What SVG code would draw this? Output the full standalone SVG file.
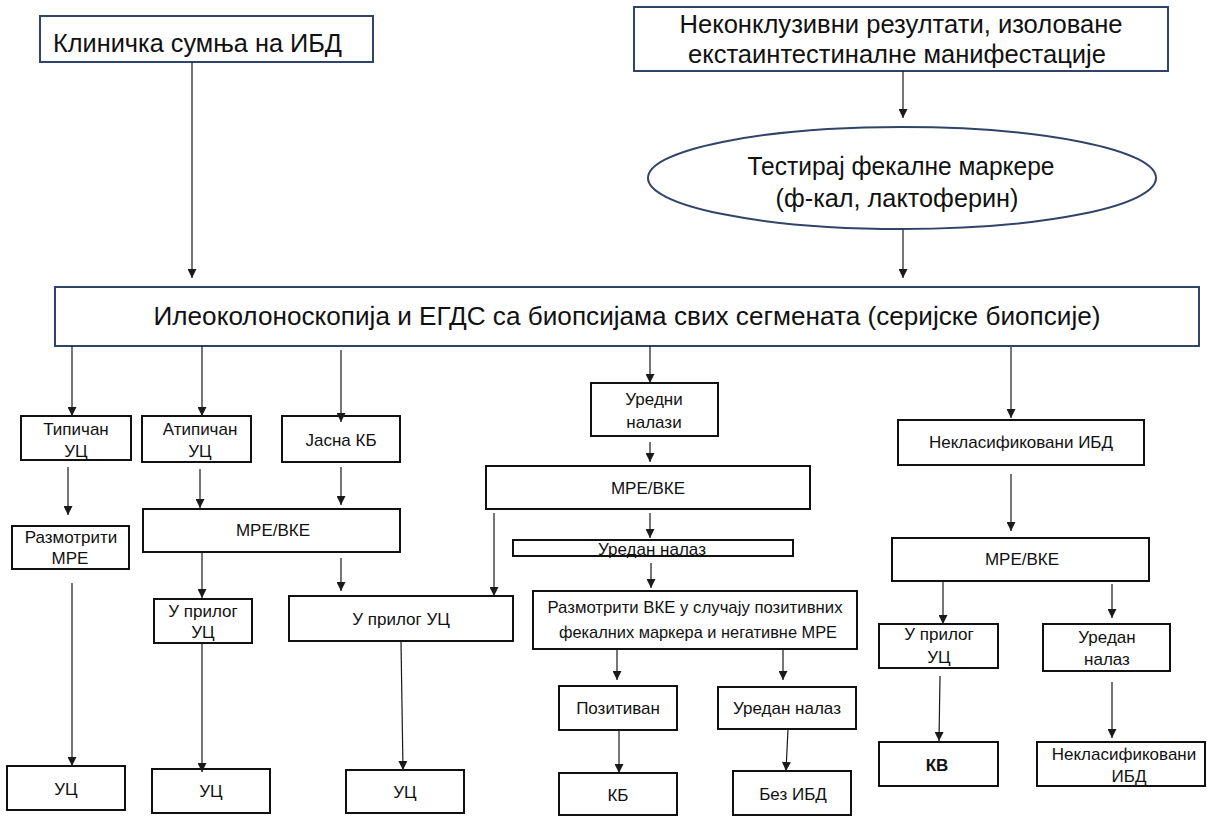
<svg xmlns="http://www.w3.org/2000/svg" width="1207" height="817" viewBox="0 0 1207 817">
<defs>
<marker id="ah" viewBox="0 0 10 10" markerUnits="userSpaceOnUse" markerWidth="9" markerHeight="9" refX="10" refY="5" orient="auto">
<path d="M0,0 L10,5 L0,10 z" fill="#1a1a1a"/>
</marker>
<style>
.top{fill:#fff;stroke:#2f4468;stroke-width:2}
.box{fill:#fff;stroke:#111;stroke-width:2}
.t{font-family:"Liberation Sans",Arial,sans-serif;fill:#111;text-anchor:middle}
.big{font-size:25px}
.sm{font-size:17px}
.c line{stroke:#1a1a1a;stroke-width:1.2;marker-end:url(#ah)}
</style>
</defs>
<rect width="1207" height="817" fill="#fff"/>

<g id="n-klinicka">
<rect class="top" x="40" y="16" width="333" height="46"/>
<text class="t big" x="53" y="52" style="text-anchor:start" textLength="289" lengthAdjust="spacingAndGlyphs">Клиничка сумња на ИБД</text>
</g>
<g id="n-nekonkluzivni">
<rect class="top" x="634" y="7" width="534" height="64"/>
<text class="t big" x="901" y="33" textLength="443" lengthAdjust="spacingAndGlyphs">Неконклузивни резултати, изоловане</text>
<text class="t big" x="897" y="63" textLength="418" lengthAdjust="spacingAndGlyphs">екстаинтестиналне манифестације</text>
</g>
<g id="n-fekalni">
<ellipse class="top" cx="902" cy="178" rx="254" ry="51"/>
<text class="t big" x="901" y="175" textLength="307" lengthAdjust="spacingAndGlyphs">Тестирај фекалне маркере</text>
<text class="t big" x="897" y="207" textLength="243" lengthAdjust="spacingAndGlyphs">(ф-кал, лактоферин)</text>
</g>
<g id="n-ileo">
<rect class="top" x="55" y="287" width="1144" height="59"/>
<text class="t big" x="627" y="325" textLength="947" lengthAdjust="spacingAndGlyphs">Илеоколоноскопија и ЕГДС са биопсијама свих сегмената (серијске биопсије)</text>
</g>

<g id="n-tipican">
<rect class="box" x="21" y="416" width="110" height="44"/>
<text class="t sm" x="76" y="435">Типичан</text>
<text class="t sm" x="76" y="457">УЦ</text>
</g>
<g id="n-atipican">
<rect class="box" x="142" y="416" width="109" height="46"/>
<text class="t sm" x="200" y="435">Атипичан</text>
<text class="t sm" x="200" y="457">УЦ</text>
</g>
<g id="n-jasna">
<rect class="box" x="282" y="416" width="118" height="46"/>
<text class="t sm" x="341" y="446">Јасна КБ</text>
</g>
<g id="n-razmotriti-mre">
<rect class="box" x="12" y="526" width="117" height="43"/>
<text class="t sm" x="71" y="543">Размотрити</text>
<text class="t sm" x="70" y="564">МРЕ</text>
</g>
<g id="n-mre1">
<rect class="box" x="143" y="509" width="257" height="43"/>
<text class="t sm" x="273" y="536">МРЕ/ВКЕ</text>
</g>
<g id="n-uc-prilog1">
<rect class="box" x="154" y="599" width="98" height="44"/>
<text class="t sm" x="203" y="617">У прилог</text>
<text class="t sm" x="203" y="638">УЦ</text>
</g>
<g id="n-uc-prilog2">
<rect class="box" x="289" y="596" width="224" height="45"/>
<text class="t sm" x="401" y="625">У прилог УЦ</text>
</g>
<g id="n-uc1">
<rect class="box" x="7" y="766" width="118" height="44"/>
<text class="t sm" x="66" y="795">УЦ</text>
</g>
<g id="n-uc2">
<rect class="box" x="152" y="769" width="118" height="44"/>
<text class="t sm" x="211" y="797">УЦ</text>
</g>
<g id="n-uc3">
<rect class="box" x="346" y="770" width="118" height="43"/>
<text class="t sm" x="405" y="798">УЦ</text>
</g>

<g id="n-uredni">
<rect class="box" x="591" y="383" width="127" height="53"/>
<text class="t sm" x="654" y="405">Уредни</text>
<text class="t sm" x="654" y="428">налази</text>
</g>
<g id="n-mre2">
<rect class="box" x="486" y="466" width="324" height="43"/>
<text class="t sm" x="648" y="494">МРЕ/ВКЕ</text>
</g>
<g id="n-uredan1">
<rect class="box" x="513" y="540" width="280" height="16"/>
<text class="t sm" x="652" y="555">Уредан налаз</text>
</g>
<g id="n-razmotriti-vke">
<rect class="box" x="533" y="591" width="324" height="58"/>
<text class="t sm" x="695" y="613" textLength="295" lengthAdjust="spacingAndGlyphs">Размотрити ВКЕ у случају позитивних</text>
<text class="t sm" x="698" y="638" textLength="278" lengthAdjust="spacingAndGlyphs">фекалних маркера и негативне МРЕ</text>
</g>
<g id="n-pozitivan">
<rect class="box" x="559" y="686" width="118" height="44"/>
<text class="t sm" x="618" y="714">Позитиван</text>
</g>
<g id="n-uredan2">
<rect class="box" x="718" y="687" width="138" height="42"/>
<text class="t sm" x="787" y="714">Уредан налаз</text>
</g>
<g id="n-kb">
<rect class="box" x="559" y="773" width="118" height="42"/>
<text class="t sm" x="618" y="801">КБ</text>
</g>
<g id="n-bez-ibd">
<rect class="box" x="733" y="771" width="118" height="44"/>
<text class="t sm" x="793" y="800">Без ИБД</text>
</g>

<g id="n-neklas1">
<rect class="box" x="898" y="420" width="246" height="45"/>
<text class="t sm" x="1021" y="448">Некласификовани ИБД</text>
</g>
<g id="n-mre3">
<rect class="box" x="892" y="538" width="257" height="43"/>
<text class="t sm" x="1022" y="565">МРЕ/ВКЕ</text>
</g>
<g id="n-uc-prilog3">
<rect class="box" x="879" y="624" width="119" height="44"/>
<text class="t sm" x="939" y="640">У прилог</text>
<text class="t sm" x="939" y="663">УЦ</text>
</g>
<g id="n-uredan3">
<rect class="box" x="1043" y="624" width="127" height="47"/>
<text class="t sm" x="1107" y="643">Уредан</text>
<text class="t sm" x="1107" y="665">налаз</text>
</g>
<g id="n-kv">
<rect class="box" x="879" y="742" width="119" height="44"/>
<text class="t sm" x="937" y="771" style="font-weight:bold">КВ</text>
</g>
<g id="n-neklas2">
<rect class="box" x="1037" y="742" width="168" height="44"/>
<text class="t sm" x="1124" y="760">Некласификовани</text>
<text class="t sm" x="1129" y="782">ИБД</text>
</g>

<g id="connectors" class="c">
<line x1="192" y1="62" x2="192" y2="278"/>
<line x1="903" y1="71" x2="903" y2="118"/>
<line x1="903" y1="230" x2="903" y2="278"/>
<line x1="72" y1="346" x2="72" y2="416"/>
<line x1="202" y1="346" x2="202" y2="416"/>
<line x1="341" y1="350" x2="341" y2="422"/>
<line x1="650" y1="346" x2="650" y2="383"/>
<line x1="1011" y1="347" x2="1011" y2="418"/>
<line x1="68" y1="467" x2="68" y2="515"/>
<line x1="200" y1="469" x2="200" y2="508"/>
<line x1="341" y1="467" x2="341" y2="505"/>
<line x1="202" y1="552" x2="202" y2="598"/>
<line x1="341" y1="558" x2="341" y2="591"/>
<line x1="72" y1="583" x2="72" y2="766"/>
<line x1="202" y1="643" x2="202" y2="772"/>
<line x1="401" y1="642" x2="403" y2="770"/>
<line x1="650" y1="442" x2="650" y2="462"/>
<line x1="650" y1="513" x2="650" y2="538"/>
<line x1="651" y1="563" x2="651" y2="588"/>
<line x1="494" y1="513" x2="494" y2="596"/>
<line x1="617" y1="649" x2="617" y2="680"/>
<line x1="783" y1="649" x2="783" y2="680"/>
<line x1="619" y1="730" x2="619" y2="773"/>
<line x1="788" y1="729" x2="786" y2="771"/>
<line x1="1011" y1="474" x2="1011" y2="531"/>
<line x1="943" y1="581" x2="943" y2="624"/>
<line x1="1112" y1="584" x2="1112" y2="618"/>
<line x1="940" y1="676" x2="939" y2="741"/>
<line x1="1112" y1="682" x2="1112" y2="738"/>
</g>
</svg>
